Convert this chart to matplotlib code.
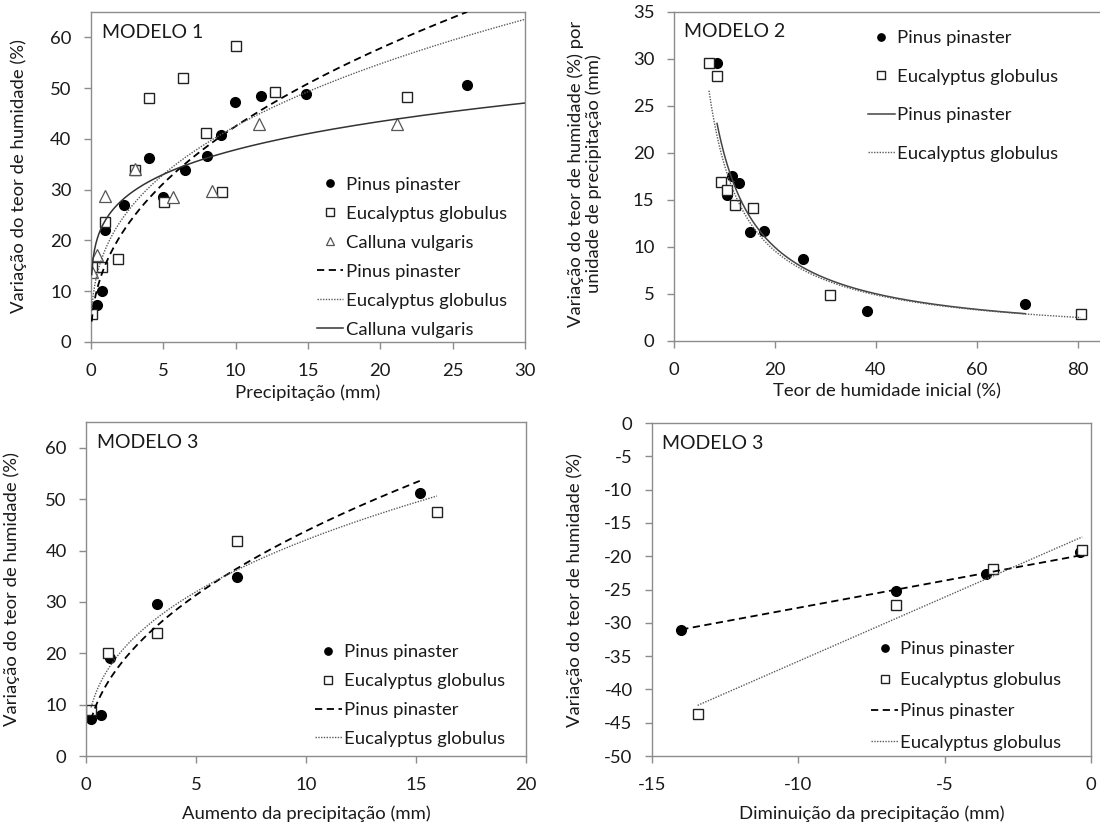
import numpy as np
import matplotlib
matplotlib.use('Agg')
import matplotlib.pyplot as plt
from matplotlib.lines import Line2D

plt.rcParams['font.family'] = ['Lato', 'DejaVu Sans']
plt.rcParams['axes.unicode_minus'] = False

# ---------------- MODELO 1 ----------------
m1_pin_x = [0.05, 0.39, 0.74, 0.97, 2.28, 3.99, 5.0, 6.52, 8.0, 8.99, 9.95, 11.73, 14.84, 25.97]
m1_pin_y = [5.9, 7.3, 10.0, 22.0, 27.0, 36.3, 28.5, 33.9, 36.6, 40.7, 47.2, 48.4, 48.8, 50.7]
m1_euc_x = [0.05, 0.28, 0.74, 0.97, 1.84, 3.04, 3.99, 5.05, 6.38, 7.95, 9.03, 10.02, 12.7, 21.82]
m1_euc_y = [5.6, 14.8, 14.8, 23.7, 16.3, 33.9, 48.1, 27.5, 52.0, 41.2, 29.6, 58.2, 49.2, 48.2]
m1_cal_x = [0.05, 0.44, 0.97, 3.04, 5.69, 8.39, 11.6, 21.15]
m1_cal_y = [13.8, 17.1, 28.8, 34.0, 28.5, 29.7, 43.0, 43.0]
# power trend lines y = a * x^b  (a, b, x_start, x_end)
m1_pin_fit = [15.25, 0.445, 0.05, 26.0]
m1_euc_fit = [18.3, 0.366, 0.05, 30.0]
m1_cal_fit = [24.0, 0.198, 0.05, 30.0]

# ---------------- MODELO 2 ----------------
m2_pin_x = [8.53, 11.5, 10.5, 12.9, 15.0, 17.9, 25.5, 38.3, 69.6]
m2_pin_y = [29.6, 17.6, 15.5, 16.8, 11.6, 11.7, 8.76, 3.16, 3.97]
m2_euc_x = [6.94, 8.47, 9.39, 10.5, 12.0, 15.7, 31.0, 80.6]
m2_euc_y = [29.6, 28.2, 16.9, 16.1, 14.5, 14.1, 4.86, 2.87]
m2_pin_fit = [192.8, -0.989, 8.53, 69.6]
m2_euc_fit = [173.0, -0.966, 6.94, 80.6]

# ---------------- MODELO 3 (aumento) ----------------
m3a_pin_x = [0.23, 0.67, 1.09, 3.23, 6.86, 15.17]
m3a_pin_y = [7.3, 7.9, 19.1, 29.5, 34.8, 51.1]
m3a_euc_x = [0.23, 0.98, 3.23, 6.86, 15.95]
m3a_euc_y = [9.0, 20.1, 23.9, 41.8, 47.4]
m3a_pin_fit = [14.4, 0.483, 0.23, 15.17]
m3a_euc_fit = [16.9, 0.396, 0.23, 15.95]

# ---------------- MODELO 3 (diminuicao) ----------------
m3d_pin_x = [-14.0, -6.67, -3.58, -0.39]
m3d_pin_y = [-31.0, -25.2, -22.7, -19.3]
m3d_euc_x = [-13.44, -6.67, -3.35, -0.30]
m3d_euc_y = [-43.7, -27.3, -21.9, -19.0]
# linear trend lines y = m * x + c  (m, c, x_start, x_end)
m3d_pin_fit = [0.816, -19.58, -14.0, -0.39]
m3d_euc_fit = [1.925, -16.52, -13.44, -0.30]

labels_sp = ['Pinus pinaster', 'Eucalyptus globulus', 'Calluna vulgaris']

TXT = '#1a1a1a'
AX = '#8c8c8c'
FS = 13.3
FT = 14.0

fig = plt.figure(figsize=(11, 8.25), dpi=100)

def setup(ax):
    for s in ax.spines.values():
        s.set_color(AX)
        s.set_linewidth(1.0)
    ax.tick_params(direction='out', length=5, width=1, color=AX,
                   labelsize=FS, labelcolor=TXT)
    ax.tick_params(axis='x', pad=10)
    ax.tick_params(axis='y', pad=9)

def power(fit):
    a, b, x0, x1 = fit
    xs = np.linspace(x0, x1, 300)
    return xs, a * xs ** b

def linear(fit):
    m, c, x0, x1 = fit
    xs = np.array([x0, x1])
    return xs, m * xs + c

circ = dict(marker='o', ms=7, mfc='black', mec='black', ls='none', zorder=2)
sq = dict(marker='s', ms=7.5, mfc='white', mec='#222222', mew=1.0, ls='none', zorder=2)
tri = dict(marker='^', ms=8, mfc='white', mec='#555555', mew=0.9, ls='none', zorder=2)
dash = dict(color='black', lw=1.3, dashes=(4, 2.5), zorder=3)
dot = dict(color='#5a5a5a', lw=1.0, dashes=(1, 1), zorder=3)
solid = dict(color='#333333', lw=1.1, zorder=3)

def leg(ax, handles, labels, anchor, spacing):
    ax.legend(handles, labels, loc='upper left', bbox_to_anchor=anchor,
              frameon=False, fontsize=FS, handlelength=1.45, handletextpad=0.12,
              labelspacing=spacing, borderpad=0, borderaxespad=0, markerscale=0.75,
              labelcolor=TXT)

# ---- Panel 1 ----
ax1 = fig.add_axes([0.0827, 0.5855, 0.3945, 0.4])
setup(ax1)
ax1.plot(m1_pin_x, m1_pin_y, **circ)
ax1.plot(m1_euc_x, m1_euc_y, **sq)
ax1.plot(m1_cal_x, m1_cal_y, **tri)
ax1.plot(*power(m1_pin_fit), **dash)
ax1.plot(*power(m1_euc_fit), **dot)
ax1.plot(*power(m1_cal_fit), **solid)
ax1.set_xlim(0, 30)
ax1.set_ylim(0, 65)
ax1.set_xticks([0, 5, 10, 15, 20, 25, 30])
ax1.set_yticks([0, 10, 20, 30, 40, 50, 60])
ax1.set_xlabel('Precipitação (mm)', fontsize=FS, color=TXT, labelpad=4)
ax1.set_ylabel('Variação do teor de humidade (%)', fontsize=FS, color=TXT)
ax1.yaxis.set_label_coords(-0.147, 0.503)
ax1.text(0.025, 0.965, 'MODELO 1', transform=ax1.transAxes, fontsize=FT, color=TXT, va='top')
h1 = [Line2D([], [], **circ), Line2D([], [], **sq), Line2D([], [], **tri),
      Line2D([], [], **dash), Line2D([], [], **dot), Line2D([], [], **solid)]
leg(ax1, h1, labels_sp + labels_sp, (0.52, 0.50), 0.7)

# ---- Panel 2 ----
ax2 = fig.add_axes([0.6127, 0.5867, 0.3873, 0.3988])
setup(ax2)
ax2.spines['right'].set_visible(False)
ax2.plot(m2_pin_x, m2_pin_y, **circ)
ax2.plot(m2_euc_x, m2_euc_y, **sq)
p2solid = dict(color='#444444', lw=1.1, zorder=3)
ax2.plot(*power(m2_pin_fit), **p2solid)
ax2.plot(*power(m2_euc_fit), **dot)
ax2.set_xlim(0, 84.4)
ax2.set_ylim(0, 35)
ax2.set_xticks([0, 20, 40, 60, 80])
ax2.set_yticks([0, 5, 10, 15, 20, 25, 30, 35])
ax2.set_xlabel('Teor de humidade inicial (%)', fontsize=FS, color=TXT, labelpad=4)
ax2.set_ylabel('Variação do teor de humidade (%) por\nunidade de precipitação (mm)',
               fontsize=FS, color=TXT, linespacing=1.05)
ax2.yaxis.set_label_coords(-0.17, 0.508)
ax2.text(0.023, 0.965, 'MODELO 2', transform=ax2.transAxes, fontsize=FT, color=TXT, va='top')
h2 = [Line2D([], [], **circ), Line2D([], [], **sq), Line2D([], [], **p2solid), Line2D([], [], **dot)]
leg(ax2, h2, labels_sp[:2] + labels_sp[:2], (0.455, 0.945), 1.22)

# ---- Panel 3 ----
ax3 = fig.add_axes([0.0782, 0.0836, 0.4, 0.4048])
setup(ax3)
ax3.plot(m3a_pin_x, m3a_pin_y, **circ)
ax3.plot(m3a_euc_x, m3a_euc_y, **sq)
ax3.plot(*power(m3a_pin_fit), **dash)
ax3.plot(*power(m3a_euc_fit), **dot)
ax3.set_xlim(0, 20)
ax3.set_ylim(0, 65)
ax3.set_xticks([0, 5, 10, 15, 20])
ax3.set_yticks([0, 10, 20, 30, 40, 50, 60])
ax3.set_xlabel('Aumento da precipitação (mm)', fontsize=FS, color=TXT, labelpad=9)
ax3.set_ylabel('Variação do teor de humidade (%)', fontsize=FS, color=TXT)
ax3.yaxis.set_label_coords(-0.15, 0.5)
ax3.text(0.024, 0.965, 'MODELO 3', transform=ax3.transAxes, fontsize=FT, color=TXT, va='top')
h3 = [Line2D([], [], **circ), Line2D([], [], **sq), Line2D([], [], **dash), Line2D([], [], **dot)]
leg(ax3, h3, labels_sp[:2] + labels_sp[:2], (0.52, 0.335), 0.7)

# ---- Panel 4 ----
ax4 = fig.add_axes([0.5927, 0.0836, 0.3991, 0.4036])
setup(ax4)
ax4.plot(m3d_pin_x, m3d_pin_y, **circ)
ax4.plot(m3d_euc_x, m3d_euc_y, **sq)
ax4.plot(*linear(m3d_pin_fit), **dash)
ax4.plot(*linear(m3d_euc_fit), **dot)
ax4.set_xlim(-15, 0)
ax4.set_ylim(-50, 0)
ax4.set_xticks([-15, -10, -5, 0])
ax4.set_yticks(list(range(-50, 1, 5)))
ax4.set_xlabel('Diminuição da precipitação (mm)', fontsize=FS, color=TXT, labelpad=9)
ax4.set_ylabel('Variação do teor de humidade (%)', fontsize=FS, color=TXT)
ax4.yaxis.set_label_coords(-0.157, 0.5)
ax4.text(0.022, 0.965, 'MODELO 3', transform=ax4.transAxes, fontsize=FT, color=TXT, va='top')
h4 = [Line2D([], [], **circ), Line2D([], [], **sq), Line2D([], [], **dash), Line2D([], [], **dot)]
leg(ax4, h4, labels_sp[:2] + labels_sp[:2], (0.5, 0.345), 0.82)

fig.savefig('out.png', dpi=100)
